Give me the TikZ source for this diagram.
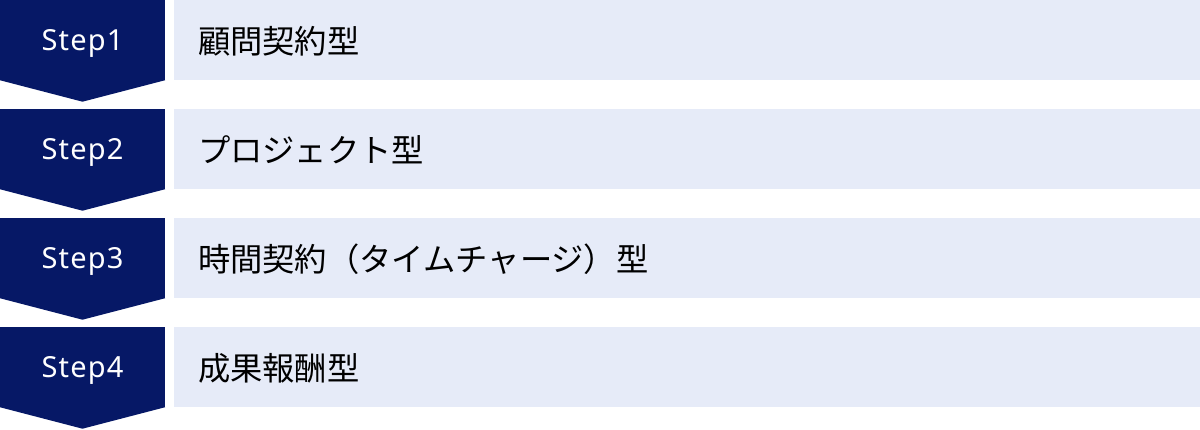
\documentclass[tikz,border=0pt]{standalone}
\usepackage{fontspec}
\setmainfont{Noto Sans}
\newfontfamily\jpfont{Noto Sans CJK JP}
\usetikzlibrary{calc}
\definecolor{navy}{HTML}{061866}
\definecolor{pale}{HTML}{E6EBF8}
\tikzset{
  stepbox/.style={fill=navy, text=white, minimum width=165pt, minimum height=80pt, inner sep=0pt, text height=20.7pt, text depth=0pt, font=\fontsize{29}{34}\selectfont},
  bandbox/.style={fill=pale, minimum width=1026pt, minimum height=80pt, inner sep=0pt},
  bandtext/.style={anchor=west, inner sep=0pt, font=\jpfont\fontsize{32.3}{38}\selectfont, text=black},
}
\begin{document}
\begin{tikzpicture}[x=1pt,y=-1pt]
\useasboundingbox (0,0) rectangle (1200,429);
\foreach \i/\lab/\txt in {1/Step1/顧問契約型, 2/Step2/プロジェクト型, 3/Step3/時間契約（タイムチャージ）型, 4/Step4/成果報酬型}{
  \node[stepbox] (s\i) at (82.5, {40+109*(\i-1)}) {\addfontfeature{LetterSpace=4}\lab};
  \fill[navy] (s\i.south west) -- (s\i.south east) -- ($(s\i.south)+(0,21.5)$) -- cycle;
  \node[bandbox] (b\i) at (687, {40+109*(\i-1)}) {};
  \node[bandtext] (t\i) at ($(b\i.west)+(24,1)$) {\txt};
}
\end{tikzpicture}
\end{document}
